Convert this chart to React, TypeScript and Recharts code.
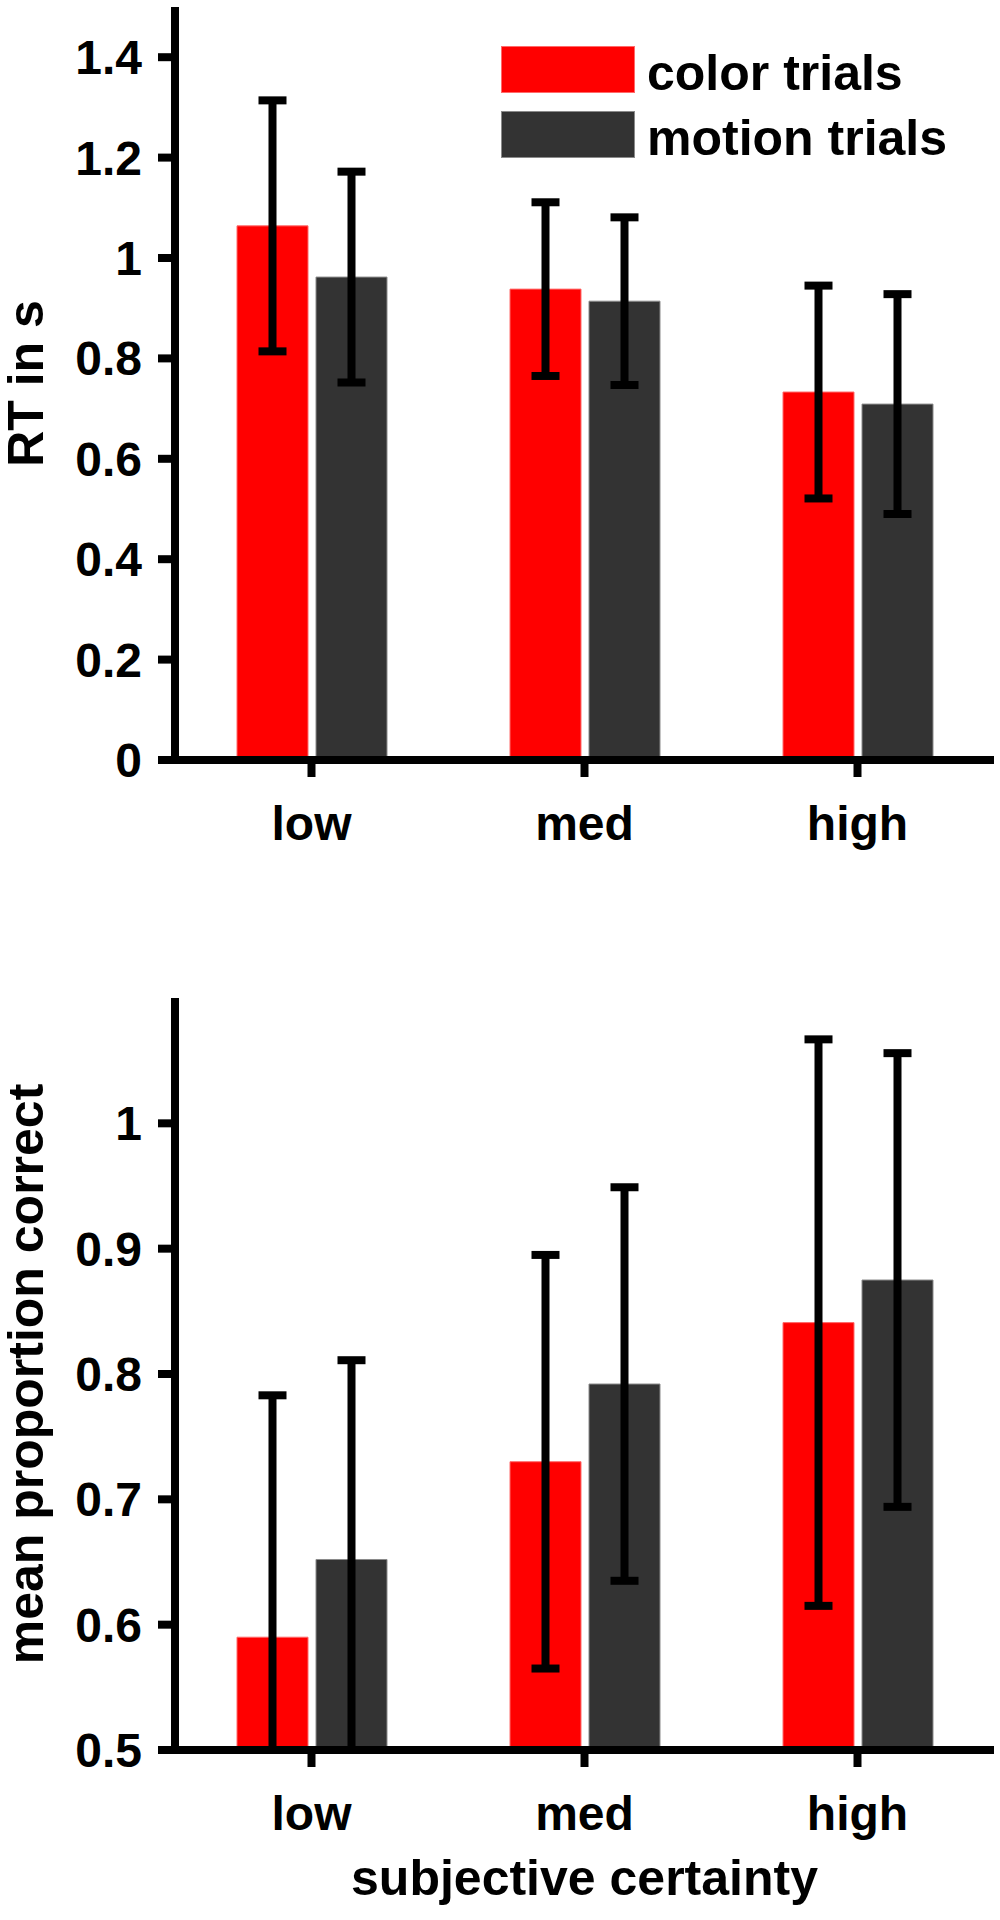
import React from 'react';
import { BarChart, Bar, XAxis, YAxis, ErrorBar, Legend } from 'recharts';

const categories = ['low', 'med', 'high'];

const rtColor = [1.064, 0.938, 0.733];
const rtColorErr = [0.25, 0.173, 0.212];
const rtMotion = [0.962, 0.914, 0.709];
const rtMotionErr = [0.21, 0.167, 0.219];

const pcColor = [0.59, 0.73, 0.841];
const pcColorErr = [0.193, 0.165, 0.226];
const pcMotion = [0.652, 0.792, 0.875];
const pcMotionErr = [0.159, 0.157, 0.181];

const rtTicks = [0, 0.2, 0.4, 0.6, 0.8, 1, 1.2, 1.4];
const pcTicks = [0.5, 0.6, 0.7, 0.8, 0.9, 1];

const seriesNames = ['color trials', 'motion trials'];
const seriesColors = ['#ff0000', '#333333'];
const seriesEdges = ['#ff6a6a', '#8a8a8a'];

const FONT = '"Liberation Sans", Arial, Helvetica, sans-serif';

const rtData = categories.map((c, i) => ({
  cat: c,
  color: rtColor[i],
  colorErr: rtColorErr[i],
  motion: rtMotion[i],
  motionErr: rtMotionErr[i],
}));

const pcData = categories.map((c, i) => ({
  cat: c,
  color: pcColor[i],
  colorErr: pcColorErr[i],
  motion: pcMotion[i],
  motionErr: pcMotionErr[i],
}));

const LINE_W = 8;
const axisLineStyle = { stroke: '#000', strokeWidth: LINE_W };
const tickStyle = { fill: '#000', fontSize: 48, fontWeight: 'bold', fontFamily: FONT };
const labelStyle = { textAnchor: 'middle', fill: '#000', fontSize: 50, fontWeight: 'bold', fontFamily: FONT };

const Y_AXIS_W = 175;
const CHART_W = 1000;
const MARGIN_RIGHT = 6;

const LegendContent = () => (
  <div style={{ fontFamily: FONT, fontWeight: 'bold', fontSize: 50, color: '#000' }}>
    {seriesNames.map((n, i) => (
      <div key={n} style={{ display: 'flex', alignItems: 'flex-start', height: 65 }}>
        <span
          style={{
            display: 'inline-block',
            width: 134,
            height: 47,
            background: seriesColors[i],
            boxSizing: 'border-box',
            border: `1px solid ${seriesEdges[i]}`,
            marginRight: 12,
          }}
        />
        <span style={{ lineHeight: '55px', whiteSpace: 'nowrap' }}>{n}</span>
      </div>
    ))}
  </div>
);

type PanelProps = {
  data: any[];
  height: number;
  top: number;
  plotHeight: number;
  xAxisHeight: number;
  domain: [number, number];
  ticks: number[];
  yLabel: string;
  xLabel?: string;
  legend?: boolean;
};

function Panel({ data, height, top, plotHeight, xAxisHeight, domain, ticks, yLabel, xLabel, legend }: PanelProps) {
  const bottom = height - top - plotHeight - xAxisHeight;
  return (
    <div style={{ position: 'relative', width: CHART_W, height }}>
      <div style={{ position: 'absolute', left: 0, top: 0 }}>
        <BarChart
          width={CHART_W}
          height={height}
          data={data}
          margin={{ top, right: MARGIN_RIGHT, left: 0, bottom }}
          barSize={71}
          barGap={8}
        >
          <XAxis
            dataKey="cat"
            height={xAxisHeight}
            axisLine={axisLineStyle}
            tickLine={axisLineStyle}
            tickSize={17}
            tickMargin={29}
            tick={tickStyle}
            interval={0}
            label={
              xLabel
                ? { value: xLabel, position: 'insideBottom', offset: 0, style: labelStyle }
                : undefined
            }
          />
          <YAxis
            width={Y_AXIS_W}
            domain={domain}
            ticks={ticks}
            allowDataOverflow
            axisLine={axisLineStyle}
            tickLine={axisLineStyle}
            tickSize={17}
            tickMargin={16}
            tick={tickStyle}
            interval={0}
            label={{ value: yLabel, angle: -90, position: 'insideLeft', offset: 25, style: labelStyle }}
          />
          {legend && (
            <Legend
              layout="vertical"
              align="center"
              verticalAlign="middle"
              content={<LegendContent />}
              wrapperStyle={{ top: 46, left: 501, width: 480, height: 130 }}
            />
          )}
          <Bar
            dataKey="color"
            fill={seriesColors[0]}
            stroke={seriesEdges[0]}
            strokeWidth={1}
            isAnimationActive={false}
            name={seriesNames[0]}
          />
          <Bar
            dataKey="motion"
            fill={seriesColors[1]}
            stroke={seriesEdges[1]}
            strokeWidth={1}
            isAnimationActive={false}
            name={seriesNames[1]}
          />
        </BarChart>
      </div>
      {/* error bars, clipped at the plot area like the original axes */}
      <div
        style={{
          position: 'absolute',
          left: 0,
          top: 0,
          width: CHART_W,
          height: top + plotHeight,
          overflow: 'hidden',
          pointerEvents: 'none',
        }}
      >
        <BarChart
          width={CHART_W}
          height={height}
          data={data}
          margin={{ top, right: MARGIN_RIGHT, left: Y_AXIS_W, bottom: bottom + xAxisHeight }}
          barSize={71}
          barGap={8}
        >
          <XAxis dataKey="cat" hide />
          <YAxis hide domain={domain} allowDataOverflow />
          <Bar dataKey="color" fill="none" stroke="none" isAnimationActive={false}>
            <ErrorBar dataKey="colorErr" width={14} strokeWidth={LINE_W} stroke="#000" direction="y" isAnimationActive={false} />
          </Bar>
          <Bar dataKey="motion" fill="none" stroke="none" isAnimationActive={false}>
            <ErrorBar dataKey="motionErr" width={14} strokeWidth={LINE_W} stroke="#000" direction="y" isAnimationActive={false} />
          </Bar>
        </BarChart>
      </div>
    </div>
  );
}

export default function App() {
  return (
    <div style={{ position: 'absolute', left: 0, top: 0, width: 1000, height: 1920, background: '#fff' }}>
      <div style={{ position: 'absolute', left: 0, top: 0 }}>
        <Panel
          data={rtData}
          height={990}
          top={7}
          plotHeight={753}
          xAxisHeight={100}
          domain={[0, 1.5]}
          ticks={rtTicks}
          yLabel="RT in s"
          legend
        />
      </div>
      <div style={{ position: 'absolute', left: 0, top: 990 }}>
        <Panel
          data={pcData}
          height={930}
          top={8}
          plotHeight={752}
          xAxisHeight={145}
          domain={[0.5, 1.1]}
          ticks={pcTicks}
          yLabel="mean proportion correct"
          xLabel="subjective certainty"
        />
      </div>
    </div>
  );
}
